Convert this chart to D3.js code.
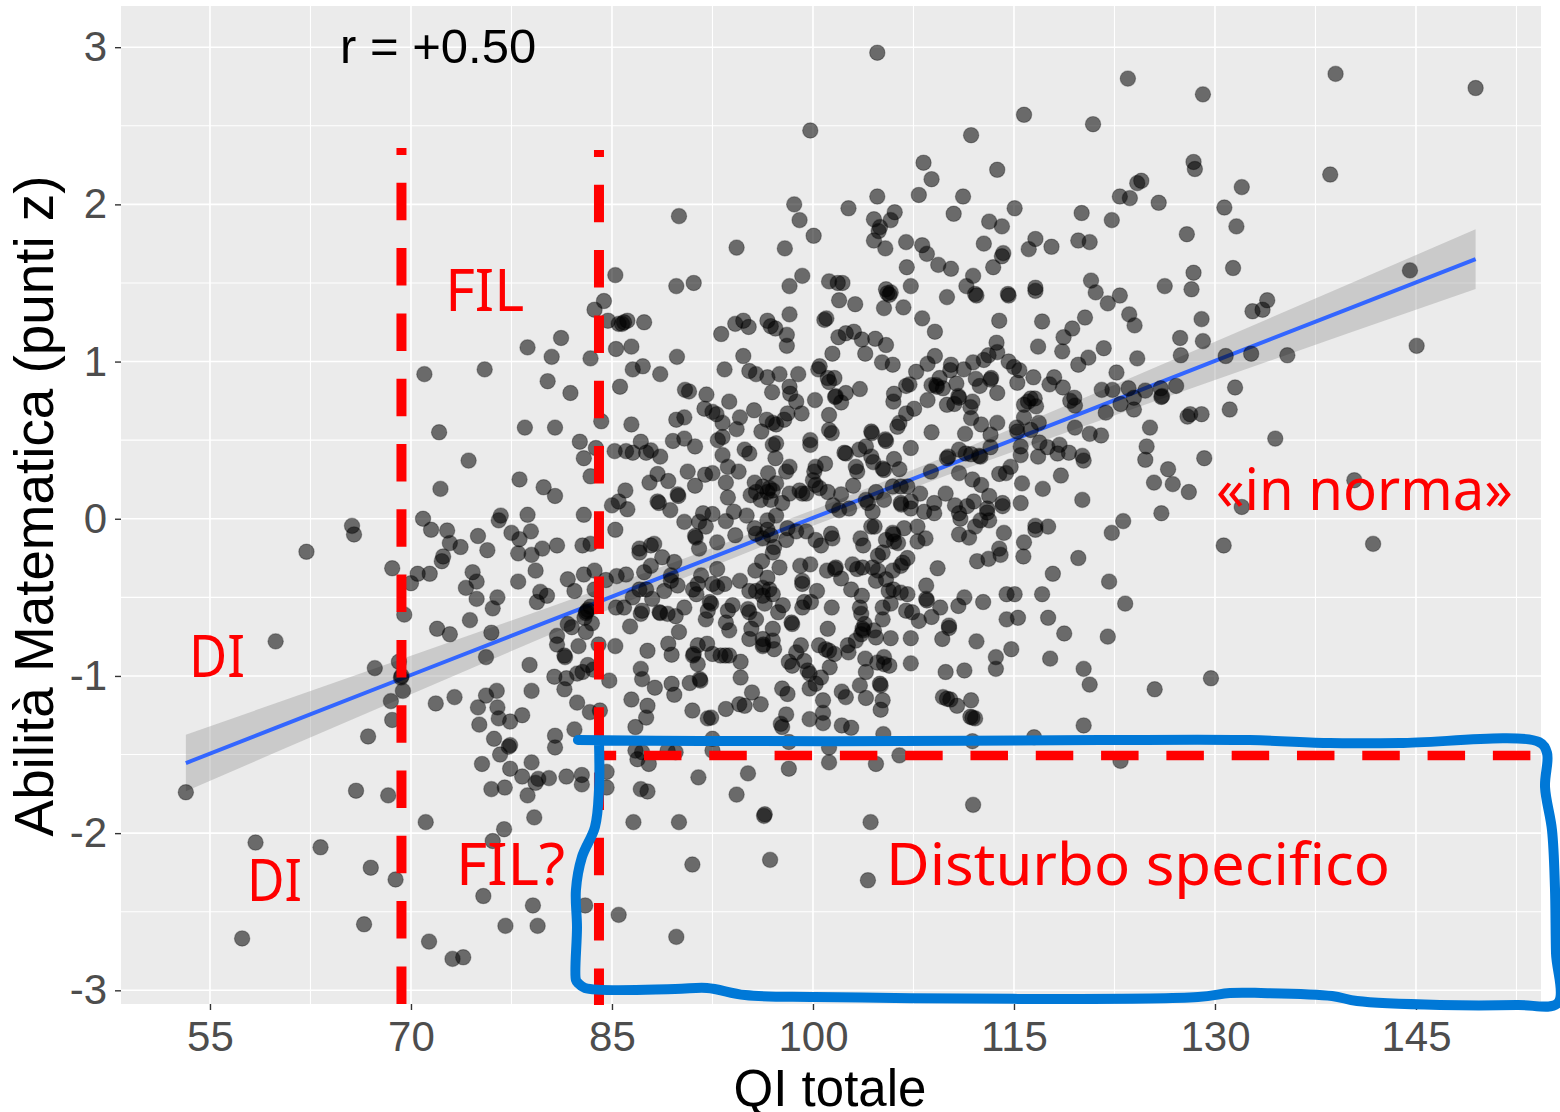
<!DOCTYPE html>
<html><head><meta charset="utf-8">
<script src="https://cdn.jsdelivr.net/npm/d3@7"></script>
<style>html,body{margin:0;padding:0;background:#fff}svg{display:block}</style>
</head><body><svg id="c" width="1560" height="1112"></svg>
<script>
// [QI totale, Abilità Matematica], by region
const scoresLeft = [[85.25,1.55],[84.4,1.385],[83.7,1.33],[84.7,1.26],[85.5,1.24],[81.2,1.15],[78.7,1.09],[80.5,1.03],[83.4,1.02],[85.3,1.08],[71,.92],[75.5,.95],[80.2,.875],[81.9,.8],[84.2,.62],[78.5,.58],[80.75,.58],[72.1,.55],[82.6,.49],[83.8,.45],[82.9,.385],[85.2,.43],[74.3,.37],[83.4,.27],[78.1,.25],[79.9,.2],[80.75,.145],[72.2,.19],[82.9,.025],[85,.085],[85.5,.11],[78.7,.025],[76.7,.02],[76.55,-.01],[70.9,0],[71.5,-.07],[72.7,-.075],[65.6,-.045],[65.75,-.1],[62.2,-.21],[75,-.11],[77.5,-.09],[78.1,-.13],[78.95,-.08],[72.9,-.155],[73.7,-.18],[75.7,-.2],[72.4,-.24],[72.3,-.27],[78,-.22],[79,-.23],[79.8,-.19],[80.9,-.17],[82.8,-.17],[83.4,-.16],[85.25,-.07],[68.6,-.315],[70.5,-.35],[70,-.41],[71.4,-.35],[79.3,-.33],[74.6,-.34],[74.9,-.4],[74.1,-.44],[74.9,-.51],[76.45,-.5],[76.1,-.57],[78,-.4],[81.7,-.385],[82.9,-.355],[83.7,-.33],[84.55,-.39],[85.35,-.365],[82.2,-.46],[83.7,-.45],[79.65,-.465],[80.15,-.49],[79.4,-.53],[74.4,-.645],[69.5,-.61],[71.95,-.7],[72.9,-.735],[76,-.725],[83.4,-.56],[83.05,-.6],[83.1,-.59],[83.2,-.58],[82.95,-.63],[81.7,-.67],[82,-.69],[83.5,-.665],[83.05,-.72],[80.9,-.745],[80.9,-.8],[81.45,-.87],[81.5,-.88],[82.5,-.81],[84,-.8],[85.25,-.81],[59.9,-.78],[67.3,-.95],[69.1,-.91],[69.25,-1.01],[69.3,-1],[75.6,-.88],[78.85,-.93],[80.7,-1.005],[81.6,-1.015],[82.4,-.985],[82.8,-.975],[83.2,-.93],[83.6,-.96],[84.8,-1.03],[81.45,-1.085],[79,-1.095],[76.4,-1.095],[75.6,-1.125],[69.4,-1.095],[68.5,-1.16],[71.85,-1.175],[73.25,-1.135],[75,-1.2],[76.45,-1.2],[82.4,-1.17],[83.35,-1.23],[84.1,-1.22],[76.55,-1.27],[77.4,-1.29],[78.3,-1.25],[68.6,-1.28],[75.1,-1.31],[82.2,-1.34],[80.75,-1.38],[66.8,-1.385],[76.2,-1.4],[77.3,-1.45],[77.4,-1.44],[80.75,-1.455],[76.65,-1.5],[75.3,-1.56],[79,-1.55],[77.4,-1.59],[78.3,-1.64],[80.3,-1.65],[79.5,-1.655],[79.3,-1.68],[81.6,-1.64],[82.75,-1.63],[82.75,-1.69],[84.6,-1.61],[84.6,-1.71],[77,-1.71],[76,-1.72],[78.7,-1.76],[53.2,-1.74],[65.9,-1.73],[68.3,-1.76],[79.2,-1.9],[71.1,-1.93],[76.95,-1.975],[76.1,-2.05],[58.4,-2.06],[63.25,-2.09],[67,-2.22],[68.85,-2.295],[75.4,-2.4],[79.1,-2.46],[83,-2.46],[85.5,-2.52],[66.5,-2.58],[77.05,-2.59],[79.45,-2.59],[57.4,-2.67],[71.35,-2.69],[73.9,-2.79],[73.1,-2.8]];
const scoresTop = [[104.8,2.965],[99.8,2.47],[98.6,2],[99,1.9],[100.05,1.8],[90,1.925],[102.65,1.975],[104.8,2.05],[104.55,1.905],[106.1,1.95],[105.8,1.9],[105,1.855],[104.9,1.83],[104.55,1.77],[105.4,1.72],[106.95,1.76],[108.15,1.74],[108.5,1.685],[107,1.6],[107.9,2.06],[108.25,2.265],[108.85,2.16],[109.35,1.615],[110.3,1.59],[110.5,1.94],[94.3,1.725],[97.9,1.72],[99.2,1.545],[89.8,1.48],[91.1,1.5],[98.25,1.48],[101.2,1.51],[101.85,1.5],[102.2,1.5],[105.45,1.46],[105.8,1.44],[107.3,1.48],[123.5,2.8],[129.1,2.7],[115.75,2.57],[120.9,2.51],[111.8,2.44],[113.75,2.22],[128.4,2.27],[128.5,2.225],[124.5,2.15],[124.2,2.135],[132,2.11],[111.2,2.05],[122.9,2.05],[123.65,2.04],[125.8,2.01],[130.7,1.98],[115.05,1.975],[120.05,1.945],[113.15,1.89],[114.1,1.86],[122.3,1.9],[131.6,1.86],[127.9,1.81],[112.75,1.75],[116.6,1.78],[116.1,1.715],[117.8,1.73],[119.8,1.77],[120.65,1.76],[114.2,1.69],[114.1,1.67],[113.45,1.6],[111.95,1.545],[111.45,1.48],[128.4,1.565],[131.35,1.595],[120.75,1.515],[126.25,1.48],[128.25,1.46],[116.6,1.47],[116.6,1.45],[114.55,1.43],[112.1,1.43],[121.1,1.44],[122.9,1.42],[139,2.83],[149.45,2.74],[138.6,2.19],[144.55,1.58],[145.05,1.1],[140.4,.245],[141.8,-.16]];
const scoresRight = [[110,1.41],[112.2,1.42],[114.6,1.42],[122,1.37],[113.9,1.26],[117.1,1.255],[120.3,1.28],[119.35,1.21],[118.7,1.155],[123.6,1.3],[124,1.23],[129,1.27],[127.4,1.15],[129.1,1.13],[132.8,1.32],[133.55,1.33],[133.9,1.39],[113.7,1.12],[116.8,1.095],[118.6,1.065],[121.7,1.085],[120.55,1.025],[119.8,.98],[124.2,1.02],[127.45,1.04],[130.8,1.035],[132.7,1.05],[135.4,1.04],[113.75,1.06],[113.1,1.04],[112.75,1.01],[111.95,.995],[111.25,.95],[110.3,.98],[110.25,.945],[114.6,1],[115,.965],[115.4,.945],[115.25,.865],[116.45,.9],[118,.9],[117.65,.855],[118.65,.835],[122.65,.93],[112.15,.89],[112.45,.845],[113.3,.895],[113.25,.885],[110.7,.86],[109.7,.83],[113.75,.8],[110.85,.78],[110.9,.77],[111.9,.745],[110.55,.73],[111.75,.71],[121.55,.82],[122.35,.82],[123.55,.83],[124.8,.815],[125.95,.83],[127.1,.845],[126,.775],[126.05,.78],[123.95,.77],[122.95,.73],[123.95,.695],[121.85,.675],[119.2,.75],[119.5,.77],[119.55,.72],[131.5,.835],[131.1,.695],[129,.665],[128.15,.665],[127.95,.65],[116.05,.745],[116.25,.765],[116.55,.765],[115.75,.725],[116.65,.715],[115.75,.645],[116.85,.61],[115.2,.58],[115.25,.555],[116.25,.565],[111.8,.64],[112.55,.6],[113.75,.61],[113.25,.535],[111.35,.54],[119.55,.58],[120.65,.54],[121.5,.53],[125.15,.58],[134.5,.51],[124.9,.46],[124.8,.375],[129.2,.385],[126.5,.315],[125.45,.23],[126.85,.22],[128.05,.17],[132,.075],[126,.035],[113.25,.455],[110.1,.395],[110,.385],[111.4,.415],[111.8,.41],[112.4,.4],[112.5,.395],[110.9,.44],[115.5,.46],[115.5,.405],[116.9,.485],[117.5,.455],[118.4,.47],[118.25,.415],[119.1,.42],[116.8,.395],[120.1,.4],[120.2,.37],[110.9,.29],[111.9,.25],[112.55,.215],[109.9,.16],[114.75,.33],[114.4,.29],[113.9,.285],[115.6,.225],[118.5,.275],[117.15,.19],[120.1,.12],[115.5,.1],[113.15,.145],[114.15,.1],[114.15,.08],[112,.11],[111.5,.08],[110.6,.085],[110.9,.035],[113,.065],[113,.04],[112.5,-.01],[112.1,-.05],[111,0],[113.15,-.01],[114.25,-.09],[110.9,-.1],[111.65,-.12],[116.6,-.045],[116.6,-.07],[117.55,-.05],[115.75,-.15],[113.9,-.19],[123.15,-.015],[122.3,-.09],[130.65,-.17],
[112.25,-.27],[113.1,-.255],[114,-.23],[115.7,-.24],[119.8,-.25],[117.9,-.35],[122.1,-.4],[123.3,-.54],[117.1,-.48],[114.45,-.48],[115.05,-.48],[111.3,-.5],[110.85,-.555],[112.7,-.53],[109.5,-.565],[114.45,-.64],[115.3,-.63],[117.55,-.63],[118.75,-.73],[122,-.75],[110.15,-.68],[110.15,-.695],[109.65,-.765],[112.2,-.78],[114.8,-.83],[113.65,-.88],[113.65,-.955],[117.7,-.89],[120.2,-.955],[111.3,-.965],[109.9,-.975],[120.65,-1.055],[125.5,-1.085],[129.7,-1.015],[111.8,-1.155],[110.75,-1.19],[110,-1.145],[110.25,-1.15],[109.7,-1.135],[111.75,-1.26],[112.1,-1.27],[111.9,-1.265],[120.2,-1.315],[116.5,-1.39],[111.9,-1.415],[122.95,-1.54],[111.95,-1.82]];
const scoresCenterUp = [[85.75,1.24],[85.9,1.25],[86.15,1.26],[87.4,1.25],[86.45,1.095],[89.85,1.03],[87.3,.97],[86.55,.95],[88.6,.92],[85.6,.84],[90.45,.82],[90.75,.81],[92.05,.79],[86.45,.6],[89.8,.63],[90.4,.645],[93.75,.745],[91.9,.7],[92.5,.68],[92.8,.665],[93.25,.61],[93.15,1.175],[94.2,1.24],[94.8,1.26],[95.2,1.22],[96.6,1.26],[96.85,1.225],[97.2,1.21],[98.05,1.17],[98.05,1.1],[98.25,1.3],[101.95,1.39],[103.15,1.365],[105.3,1.34],[105.55,1.435],[105.7,1.425],[106.75,1.345],[108.15,1.275],[109.1,1.19],[100.85,1.265],[101,1.275],[101.9,1.155],[102.45,1.18],[103.05,1.19],[103.65,1.14],[104.65,1.145],[105.45,1.105],[101.45,1.05],[103.9,1.05],[94.8,1.035],[93.4,.95],[95.25,.94],[95.75,.92],[96.6,.9],[97.5,.92],[98.9,.92],[98.25,.84],[98.3,.795],[96.95,.805],[98.75,.745],[105.15,.995],[105.95,.98],[100.5,.97],[100.4,.95],[101.1,.895],[101.6,.895],[101.2,.87],[101.65,.775],[101.7,.78],[102.1,.74],[102.45,.8],[103.5,.825],[100.15,.755],[101.2,.66],[98.1,.67],[99.15,.67],[95.6,.69],[94.55,.645],[94.3,.57],[96.55,.63],[97,.61],[97.25,.6],[97.85,.63],[96.15,.555],[101.2,.565],[101.4,.545],[107.7,.935],[108.55,.985],[109.1,1.035],[106.05,.795],[106,.745],[106.95,.845],[107.2,.855],[108.55,.755],[107.55,.7],[106.95,.67],[106.45,.61],[106.3,.585],[109.2,.85],[109.25,.84],[109.45,.895],[108.85,.85],[110,.725],[108.85,.55],[107.3,.45],[104.35,.555],[104.4,.545],[105.4,.505],[105.45,.495],[92.9,.5],[93.25,.52],[90.4,.51],[89.55,.495],[91.2,.46],[87.15,.49],[86.05,.43],[86.55,.42],[87.55,.42],[87.9,.435],[88.6,.395],[93.25,.405],[94.9,.44],[95.25,.415],[97,.47],[97.25,.48],[97.2,.385],[99.8,.5],[99.8,.47],[102.35,.42],[102.45,.415],[103.45,.44],[103.95,.46],[104.35,.395],[104.5,.36],[93.65,.33],[94.45,.3],[90.65,.3],[88.4,.285],[87.8,.23],[89.2,.24],[91.2,.21],[91.95,.28],[92.5,.29],[93.5,.23],[93.65,.135],[89.9,.155],[89.95,.145],[86,.18],[86.15,.06],[88.4,.11],[88.5,.1],[89.35,.055],[98.25,.33],[98,.3],[100.2,.33],[100.9,.35],[100.1,.3],[96.65,.29],[95.65,.23],[96.25,.205],[96.75,.195],[97,.18],[96.6,.17],[95.75,.17],[95.35,.15],[96.1,.12],[96.85,.12],[97.7,.1],[97.25,.225],[98.25,.16],[99,.18],[99.2,.16],[99.5,.16],[100,.245],[100.2,.215],[101.1,.17],[100.5,.195],[102.1,.155],[103,.21],[103.2,.33],[103.3,.3],[105.3,.31],[105.2,.32],[106.05,.38],[106.45,.315],[108.8,.3],[104.7,.17],[105.95,.205],[106.55,.205],[107.05,.205],[103.95,.12],[104.1,.1],[104.45,.045],[105.3,.12],[106.55,.1],[106.6,.09],[107.3,.065],[107.3,.11],[108,.16],[108.3,.045],[109.05,.035],[109.05,.1],[102.7,.065],[101.95,.055],[101.5,.085],[90.4,-.02],[91.8,.035],[92.5,.03],[91.5,-.02],[92,-.05],[91.2,-.11],[91.25,-.12],[93.5,-.015],[94.1,.045],[95.05,.02],[92.85,-.15],[94.2,-.105],[95.65,-.06],[95.75,-.095],[96.6,-.01],[97.25,.02],[96.6,-.07],[96.85,-.105],[96.25,-.125],[97.1,-.18],[98.1,-.06],[98.75,-.08],[99.5,-.08],[98,-.135],[100.2,-.135],[100.6,-.17],[101.35,-.095],[101.45,-.125],[103.55,-.125],[103.75,-.17],[104.35,-.05],[104.6,-.05],[105.95,-.09],[106,-.1],[106.35,-.155],[106.05,-.145],[105.45,-.135],[106.8,-.06],[107.8,-.05],[107.8,-.145],[108.4,-.125],[87.9,-.17],[88.15,-.16],[87.05,-.19],[91.5,-.19]];
const scoresCenterLow = [[87.05,-.215],[87.9,-.3],[88.75,-.245],[89.65,-.275],[87.4,-.34],[86.05,-.355],[89.4,-.36],[89.4,-.395],[89.9,-.425],[88.9,-.46],[87.05,-.45],[87.55,-.45],[88,-.51],[86.55,-.5],[85.3,-.565],[85.9,-.565],[87.15,-.605],[87.25,-.585],[88.55,-.595],[88.6,-.6],[89.15,-.605],[89.75,-.62],[90.4,-.565],[86.35,-.685],[90,-.72],[87.65,-.84],[89.2,-.795],[89.45,-.865],[87.15,-.955],[87.25,-1.02],[88.2,-1.075],[89.45,-1.05],[89.65,-1.12],[86.45,-1.15],[87.65,-1.19],[87.55,-1.265],[86.75,-1.325],[91.05,-.87],[91.1,-.86],[91.4,-.805],[92.1,-.795],[91.4,-.925],[92.5,-.86],[93.1,-.87],[93.45,-.87],[93.75,-.87],[94.6,-.91],[94.6,-1.01],[90.8,-1.045],[91.55,-1.02],[91.6,-1.03],[95.45,-1.105],[94.5,-1.18],[94.9,-1.19],[96.1,-1.18],[93.5,-1.21],[91,-1.22],[92.15,-1.27],[92.4,-1.265],[98,-1.245],[97.6,-1.305],[97.7,-1.325],[97.7,-1.08],[98.1,-1.115],[99.75,-1.08],[99.75,-1.275],[100.75,-1.155],[100.75,-1.235],[100.75,-1.3],[102.15,-1.1],[102.45,-1.135],[102.15,-1.315],[102.85,-1.33],[103.5,-1.06],[103.95,-1.14],[105,-1.05],[105.05,-1.06],[105.2,-1.155],[105.05,-1.215],[105.25,-1.37],[91.4,-.415],[91.65,-.36],[91.05,-.45],[91.3,-.48],[92.5,-.415],[92.85,-.435],[93.4,-.415],[92.3,-.53],[92.4,-.54],[92.15,-.585],[92,-.64],[92.85,-.32],[94.55,-.395],[94,-.55],[93.65,-.585],[93.5,-.66],[93.75,-.71],[95.15,-.575],[95.25,-.595],[95.7,-.33],[96.2,-.27],[96.6,-.375],[95.25,-.46],[95.75,-.46],[96.25,-.44],[96.75,-.45],[97,-.48],[96.25,-.49],[96.4,-.54],[97.75,-.55],[97.4,-.595],[95.75,-.64],[98.4,-.66],[98.45,-.67],[97,-.7],[95.25,-.765],[95.4,-.7],[96.25,-.81],[96.3,-.8],[97,-.775],[97.1,-.83],[96.25,-.765],[99.2,-.415],[99.2,-.395],[100.3,-.46],[99.05,-.3],[99.8,-.29],[97.5,-.31],[97,-.215],[99.35,-.53],[99.85,-.53],[99.2,-.565],[101.4,-.565],[101.65,-.32],[101.7,-.31],[101.05,-.33],[102.1,-.38],[102.85,-.45],[103.65,-.49],[103.5,-.565],[103.6,-.605],[102.95,-.29],[103.3,-.32],[103.7,-.31],[104.45,-.31],[104.85,-.33],[104.85,-.235],[105.2,-.215],[105.95,-.33],[105.45,-.385],[104.7,-.395],[106.7,-.28],[107.05,-.25],[106.55,-.3],[105.65,-.46],[106,-.45],[106.55,-.47],[107.05,-.48],[108.45,-.425],[109.3,-.315],[108.45,-.51],[108.5,-.52],[105.8,-.54],[105.2,-.565],[105.2,-.64],[106.95,-.585],[107.4,-.595],[107.9,-.65],[108.85,-.625],[103.7,-.7],[103.75,-.71],[103.85,-.67],[103.6,-.735],[104.55,-.71],[104.7,-.755],[103.2,-.775],[105.8,-.76],[107.3,-.76],[101.1,-.7],[102.6,-.805],[102.65,-.85],[100.45,-.805],[100.95,-.83],[101.6,-.86],[101.2,-.84],[99.1,-.805],[98.75,-.85],[99.35,-.905],[98.2,-.91],[98.45,-.935],[99.6,-.965],[99.75,-.985],[100.6,-1.01],[100.2,-1.05],[101.25,-.945],[103.9,-.89],[103.95,-.975],[104.8,-.915],[105.3,-.925],[105.7,-.935],[105.3,-.88],[107.3,-.92]];
const scoresBottom = [[98.2,-1.59],[101.2,-1.55],[101.2,-1.455],[98.2,-1.42],[106.45,-1.505],[104.7,-1.56],[92.5,-1.4],[92.5,-1.475],[86.75,-1.475],[86.9,-1.53],[87.75,-1.56],[87.25,-1.485],[89.15,-1.475],[89.75,-1.485],[95.15,-1.62],[91.45,-1.645],[87.15,-1.72],[87.65,-1.735],[94.3,-1.755],[96.4,-1.88],[96.35,-1.89],[86.6,-1.93],[90,-1.93],[104.3,-1.93],[91,-2.2],[96.8,-2.17],[104.1,-2.3],[89.8,-2.66]];
const scores = [...scoresLeft, ...scoresTop, ...scoresRight, ...scoresCenterUp, ...scoresCenterLow, ...scoresBottom];

// linear fit with its confidence band
const fitQi   = [53.2, 60, 70, 80, 85, 90, 100, 110, 120, 130, 140, 149.45];
const fitMean = [-1.554, -1.327, -.994, -.661, -.495, -.328, .005, .338, .671, 1.004, 1.337, 1.652];
const fitLow  = [-1.734, -1.483, -1.116, -.75, -.57, -.39, -.045, .276, .582, .882, 1.181, 1.462];
const fitHigh = [-1.374, -1.171, -.872, -.572, -.42, -.266, .055, .4, .76, 1.126, 1.493, 1.842];

// drawn-on annotations
const xTicks = [55, 70, 85, 100, 115, 130, 145];
const xMinor = [62.5, 77.5, 92.5, 107.5, 122.5, 137.5, 152.5];
const yTicks = [-3, -2, -1, 0, 1, 2, 3];
const yMinor = [-2.5, -1.5, -.5, .5, 1.5, 2.5];
const cutQi = [69.29, 84.03];
const cutZ = -1.506;
const boxQi = [82.46,91.57,106.5,121.42,132.6,138.6,143.8,154.18,154.78,154.63,155.15,155.37,155.45,155.6,152.54,146.79,140.6,138.74,133.44,131.11,128.73,100.15,94.93,92.09,89.7,82.98,82.46,82.31,82.39,82.31,82.76,83.73,84.03,84.03];
const boxZ  = [-1.408,-1.414,-1.414,-1.408,-1.408,-1.427,-1.427,-1.42,-1.49,-1.707,-1.98,-2.343,-2.763,-3.08,-3.093,-3.093,-3.068,-3.036,-3.017,-3.017,-3.043,-3.043,-3.03,-2.985,-2.992,-2.985,-2.953,-2.934,-2.597,-2.362,-2.152,-1.961,-1.726,-1.414];
const notes = [
  {t:"FIL", q:72.55, z:1.32, w:79},
  {t:"DI", q:53.43, z:-1.005, w:56},
  {t:"DI", q:57.76, z:-2.43, w:55},
  {t:"FIL?", q:73.36, z:-2.33, w:109},
  {t:"Disturbo specifico", q:105.45, z:-2.33, w:504},
  {t:"«in norma»", q:130.07, z:.055, w:297}
];

const panel = {l:121, r:1541, t:6, b:1004};
const x = d3.scaleLinear().domain([48.36, 154.33]).range([panel.l, panel.r]);
const y = d3.scaleLinear().domain([3.262, -3.087]).range([panel.t, panel.b]);
const svg = d3.select("#c");
const sans = "'Liberation Sans', Arial, sans-serif";

svg.append("rect").attr("x",panel.l).attr("y",panel.t).attr("width",panel.r-panel.l).attr("height",panel.b-panel.t).attr("fill","#ebebeb");

const grid = svg.append("g").attr("stroke","#fff");
grid.selectAll(".mx").data(xMinor).join("line").attr("x1",x).attr("x2",x).attr("y1",panel.t).attr("y2",panel.b).attr("stroke-width",1.1);
grid.selectAll(".my").data(yMinor).join("line").attr("y1",y).attr("y2",y).attr("x1",panel.l).attr("x2",panel.r).attr("stroke-width",1.1);
grid.selectAll(".Mx").data(xTicks).join("line").attr("x1",x).attr("x2",x).attr("y1",panel.t).attr("y2",panel.b).attr("stroke-width",1.6);
grid.selectAll(".My").data(yTicks).join("line").attr("y1",y).attr("y2",y).attr("x1",panel.l).attr("x2",panel.r).attr("stroke-width",1.6);

// axes
const xAxis = svg.append("g").attr("transform",`translate(0,${panel.b})`)
  .call(d3.axisBottom(x).tickValues(xTicks).tickSize(6).tickPadding(11));
const yAxis = svg.append("g").attr("transform",`translate(${panel.l},0)`)
  .call(d3.axisLeft(y).tickValues(yTicks).tickSize(6).tickPadding(8).tickFormat(d3.format("d")));
[xAxis,yAxis].forEach(a=>{
  a.select(".domain").remove();
  a.selectAll("line").attr("stroke","#333").attr("stroke-width",1.4);
  a.selectAll("text").attr("fill","#4d4d4d").attr("font-family",sans).attr("font-size",42);
});
yAxis.selectAll("text").text(d=>d<0?"-"+Math.abs(d):d);

// band and fit, underneath the points
const ribbon = d3.area().x((d,i)=>x(fitQi[i])).y0((d,i)=>y(fitLow[i])).y1((d,i)=>y(fitHigh[i]));
svg.append("path").attr("d",ribbon(fitQi)).attr("fill","#999").attr("fill-opacity",.4);
const fitLine = d3.line().x((d,i)=>x(fitQi[i])).y((d,i)=>y(fitMean[i]));
svg.append("path").attr("d",fitLine(fitQi)).attr("fill","none").attr("stroke","#3366FF").attr("stroke-width",4);

svg.append("g").selectAll("circle").data(scores).join("circle")
  .attr("cx",d=>x(d[0])).attr("cy",d=>y(d[1])).attr("r",7.7)
  .attr("fill","#000").attr("fill-opacity",.55)
  .attr("stroke","#000").attr("stroke-opacity",.28).attr("stroke-width",1.2);

// titles
svg.append("text").attr("x",830).attr("y",1106).attr("text-anchor","middle").attr("font-family",sans).attr("font-size",51).attr("fill","#000").text("QI totale");
svg.append("text").attr("transform","translate(53,506) rotate(-90)").attr("text-anchor","middle").attr("font-family",sans).attr("font-size",54.8).attr("fill","#000").text("Abilità Matematica (punti z)");
svg.append("text").attr("x",340).attr("y",63).attr("font-family",sans).attr("font-size",49).attr("fill","#000").text("r = +0.50");

// cut-offs
svg.append("g").selectAll("line").data(cutQi).join("line")
  .attr("x1",x).attr("x2",x).attr("y1",(d,i)=>148+i*2).attr("y2",1005)
  .attr("stroke","#ff0000").attr("stroke-width",10).attr("stroke-dasharray","37.5 27.8").attr("stroke-dashoffset",30.5);
svg.append("line").attr("x1",x(cutQi[1])).attr("x2",1531).attr("y1",y(cutZ)).attr("y2",y(cutZ))
  .attr("stroke","#ff0000").attr("stroke-width",9.5).attr("stroke-dasharray","37.5 27.8").attr("stroke-dashoffset",20.3);

// labels
svg.append("g").selectAll("text").data(notes).join("text")
  .attr("x",d=>x(d.q)).attr("y",d=>y(d.z))
  .attr("font-family","'Noto Sans', sans-serif").attr("font-size",59).attr("fill","#ff0000")
  .attr("textLength",d=>d.w).attr("lengthAdjust","spacingAndGlyphs").text(d=>d.t);

// hand-drawn box
const boxLine = d3.line().x((d,i)=>x(boxQi[i])).y((d,i)=>y(boxZ[i])).curve(d3.curveCatmullRom.alpha(.5));
svg.append("path").attr("d",boxLine(boxQi)).attr("fill","none").attr("stroke","#0078d7").attr("stroke-width",10).attr("stroke-linejoin","round").attr("stroke-linecap","round");
</script></body></html>
